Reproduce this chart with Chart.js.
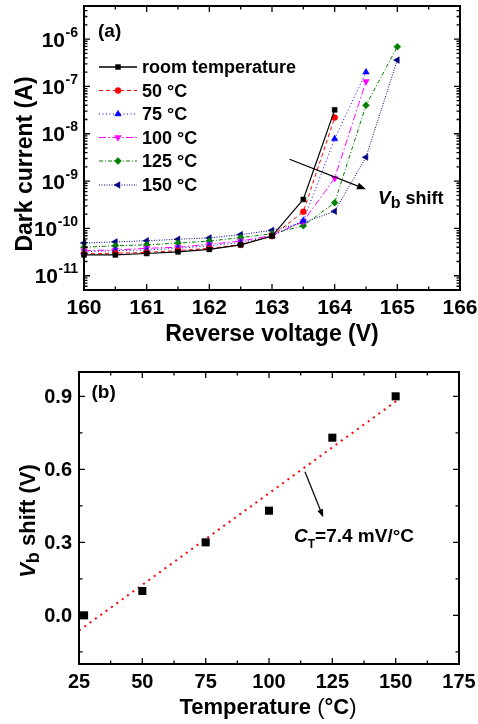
<!DOCTYPE html>
<html><head><meta charset="utf-8">
<script src="https://cdn.jsdelivr.net/npm/chart.js@4.4.1/dist/chart.umd.min.js"></script>
<style>
html,body{margin:0;padding:0;background:#fff;}
#wrap{position:relative;width:478px;height:724px;overflow:hidden;}
canvas{position:absolute;left:0;}
</style></head><body>
<div id="wrap">
<canvas id="ca" width="478" height="355" style="top:0px"></canvas>
<canvas id="cb" width="478" height="369" style="top:355px"></canvas>
</div>
<script>
// ---------- data (a) ----------
const voltage = [160, 160.5, 161, 161.5, 162, 162.5, 163, 163.5, 164, 164.5, 165];
const currentRoom = [2.75e-11, 2.75e-11, 2.95e-11, 3.2e-11, 3.6e-11, 4.5e-11, 6.9e-11, 4.1e-10, 3.2e-8];
const current50   = [2.9e-11, 3.0e-11, 3.1e-11, 3.4e-11, 3.8e-11, 4.5e-11, 6.9e-11, 2.25e-10, 2.2e-8];
const current75   = [3.2e-11, 3.4e-11, 3.5e-11, 3.8e-11, 4.3e-11, 5.0e-11, 6.9e-11, 1.46e-10, 7.8e-9, 2.0e-7];
const current100  = [3.4e-11, 3.5e-11, 3.8e-11, 4.0e-11, 4.6e-11, 5.4e-11, 7.1e-11, 1.4e-10, 1.15e-9, 1.27e-7];
const current125  = [4.0e-11, 4.3e-11, 4.5e-11, 4.9e-11, 5.4e-11, 6.4e-11, 7.7e-11, 1.14e-10, 3.5e-10, 4.0e-8, 6.9e-7];
const current150  = [4.9e-11, 5.2e-11, 5.5e-11, 5.9e-11, 6.3e-11, 7.4e-11, 9.1e-11, 1.32e-10, 2.3e-10, 3.2e-9, 3.6e-7];
const seriesNames = ['room temperature', '50 \u00B0C', '75 \u00B0C', '100 \u00B0C', '125 \u00B0C', '150 \u00B0C'];
const voltageTicks = [160, 161, 162, 163, 164, 165, 166];
const currentTickExponents = [-11, -10, -9, -8, -7, -6];

// ---------- data (b) ----------
const temperature = [27, 50, 75, 100, 125, 150];
const vbShift = [0.00, 0.10, 0.30, 0.43, 0.73, 0.90];
const fitTemperature = [25, 151];
const fitShift = [-0.063, 0.886];
const temperatureTicks = [25, 50, 75, 100, 125, 150, 175];
const shiftTicks = [0.0, 0.3, 0.6, 0.9];
const shiftTickLabels = ['0.0', '0.3', '0.6', '0.9'];

// ---------- styles ----------
const FAM = '"Liberation Sans", Arial, Helvetica, sans-serif';
const B = px => `bold ${px}px ${FAM}`;
const BI = px => `italic bold ${px}px ${FAM}`;
const currentSeries = [currentRoom, current50, current75, current100, current125, current150];
const seriesStyle = [
  {color:'#000000', dash:[],          point:'rect',     radius:3.5, rot:0},
  {color:'#FF0000', dash:[4,3],       point:'circle',   radius:3.0, rot:0},
  {color:'#0000FF', dash:[1,2.5],     point:'triangle', radius:3.8, rot:0},
  {color:'#FF00FF', dash:[7,2.5,1.5,2.5], point:'triangle', radius:3.8, rot:180},
  {color:'#008000', dash:[4,2,1,2],   point:'rectRot',  radius:3.5, rot:0},
  {color:'#000080', dash:[1,1.5],     point:'triangle', radius:3.8, rot:-90},
];

function drawRuns(ctx, runs, x, y, align){
  let w = 0;
  runs.forEach(r => { ctx.font = r.font; r.w = ctx.measureText(r.t).width; w += r.w; });
  let cx = align === 'center' ? x - w/2 : (align === 'right' ? x - w : x);
  ctx.textAlign = 'left'; ctx.textBaseline = 'alphabetic';
  runs.forEach(r => { ctx.font = r.font; ctx.fillText(r.t, cx, y + (r.dy || 0)); cx += r.w; });
}
function arrow(ctx, x1, y1, x2, y2, head, half){
  ctx.save();
  ctx.strokeStyle = '#000'; ctx.fillStyle = '#000'; ctx.lineWidth = 1.2; ctx.setLineDash([]);
  const a = Math.atan2(y2 - y1, x2 - x1);
  ctx.beginPath(); ctx.moveTo(x1, y1); ctx.lineTo(x2 - Math.cos(a)*head*0.8, y2 - Math.sin(a)*head*0.8); ctx.stroke();
  ctx.beginPath();
  ctx.moveTo(x2, y2);
  ctx.lineTo(x2 - Math.cos(a)*head + Math.sin(a)*half, y2 - Math.sin(a)*head - Math.cos(a)*half);
  ctx.lineTo(x2 - Math.cos(a)*head - Math.sin(a)*half, y2 - Math.sin(a)*head + Math.cos(a)*half);
  ctx.closePath(); ctx.fill();
  ctx.restore();
}
function marker(ctx, st, x, y){
  ctx.save();
  ctx.fillStyle = st.color; ctx.strokeStyle = st.color; ctx.lineWidth = 0.5; ctx.setLineDash([]);
  if (Chart.helpers && Chart.helpers.drawPoint) {
    Chart.helpers.drawPoint(ctx, {pointStyle: st.point, rotation: st.rot, radius: st.radius, borderWidth: 0.5}, x, y);
  } else {
    ctx.beginPath(); ctx.arc(x, y, st.radius, 0, Math.PI*2); ctx.fill();
  }
  ctx.restore();
}
function frameAndTicks(ctx, area, xs, ys){
  ctx.save();
  ctx.strokeStyle = '#000'; ctx.setLineDash([]);
  ctx.lineWidth = 1.3;
  ctx.beginPath();
  xs.forEach(t => {
    ctx.moveTo(t.p, area.bottom); ctx.lineTo(t.p, area.bottom - t.len);
    ctx.moveTo(t.p, area.top); ctx.lineTo(t.p, area.top + t.len);
  });
  ys.forEach(t => {
    ctx.moveTo(area.left, t.p); ctx.lineTo(area.left + t.len, t.p);
    ctx.moveTo(area.right, t.p); ctx.lineTo(area.right - t.len, t.p);
  });
  ctx.stroke();
  ctx.lineWidth = 2;
  ctx.strokeRect(area.left, area.top, area.right - area.left, area.bottom - area.top);
  ctx.restore();
}

// ---------- chart (a) ----------
const pluginA = {
  id: 'decorA',
  afterDraw(chart){
    const ctx = chart.ctx, area = chart.chartArea, sx = chart.scales.x, sy = chart.scales.y;
    const xs = [];
    voltageTicks.forEach((v, i) => {
      xs.push({p: sx.getPixelForValue(v), len: 6});
      if (i < voltageTicks.length - 1) xs.push({p: sx.getPixelForValue((v + voltageTicks[i+1]) / 2), len: 3.5});
    });
    const ys = [];
    const e0 = Math.floor(Math.log10(sy.min)), e1 = Math.ceil(Math.log10(sy.max));
    for (let e = e0; e <= e1; e++) {
      for (let m = 1; m <= 9; m++) {
        const v = m * Math.pow(10, e);
        if (v < sy.min * 0.999 || v > sy.max * 1.001) continue;
        ys.push({p: sy.getPixelForValue(v), len: m === 1 ? 6 : 3.5});
      }
    }
    frameAndTicks(ctx, area, xs, ys);

    ctx.save();
    ctx.fillStyle = '#000';
    // x tick labels
    ctx.font = B(21); ctx.textAlign = 'center'; ctx.textBaseline = 'alphabetic';
    voltageTicks.forEach(v => ctx.fillText(String(v), sx.getPixelForValue(v), 313.5));
    // y tick labels 10^e
    currentTickExponents.forEach(e => {
      const p = sy.getPixelForValue(Math.pow(10, e));
      ctx.font = B(14); const ex = String(e); const we = ctx.measureText(ex).width;
      ctx.textAlign = 'right'; ctx.fillText(ex, 78, p - 2.3);
      ctx.font = B(21); ctx.fillText('10', 78 - we - 0.5, p + 7.7);
    });
    // axis titles
    drawRuns(ctx, [{t:'Reverse voltage (V)', font:B(23)}], (area.left + area.right)/2, 341, 'center');
    ctx.save(); ctx.translate(32, 164); ctx.rotate(-Math.PI/2);
    drawRuns(ctx, [{t:'Dark current (A)', font:B(23)}], 0, 0, 'center');
    ctx.restore();
    // panel label
    drawRuns(ctx, [{t:'(a)', font:B(19)}], 98, 36.5, 'left');
    // legend
    const rows = [67, 90.5, 114, 137.5, 161, 185];
    chart.data.datasets.forEach((ds, i) => {
      const st = seriesStyle[i], y = rows[i];
      ctx.save();
      ctx.strokeStyle = st.color; ctx.lineWidth = i === 0 ? 1.5 : 1.2; ctx.setLineDash(st.dash);
      ctx.beginPath(); ctx.moveTo(99, y); ctx.lineTo(137, y); ctx.stroke();
      ctx.restore();
      marker(ctx, st, 118, y);
      ctx.fillStyle = '#000';
      drawRuns(ctx, [{t: ds.label, font: B(18)}], 142, y + 6, 'left');
    });
    // V_b shift annotation
    arrow(ctx, sx.getPixelForValue(163.28), sy.getPixelForValue(2.9e-9),
               sx.getPixelForValue(164.5), sy.getPixelForValue(6.7e-10), 9, 3.5);
    ctx.fillStyle = '#000';
    drawRuns(ctx, [{t:'V', font:BI(19)}, {t:'b', font:B(16), dy:4}, {t:' shift', font:B(18)}], 378, 204, 'left');
    ctx.restore();
  }
};

new Chart(document.getElementById('ca'), {
  type: 'scatter',
  data: {
    datasets: currentSeries.map((arr, i) => ({
      label: seriesNames[i],
      data: arr.map((c, j) => ({x: voltage[j], y: c})),
      showLine: true,
      borderColor: seriesStyle[i].color,
      backgroundColor: seriesStyle[i].color,
      borderWidth: i === 0 ? 1.2 : 1,
      borderDash: seriesStyle[i].dash,
      pointStyle: seriesStyle[i].point,
      pointRotation: seriesStyle[i].rot,
      pointRadius: seriesStyle[i].radius,
      pointBorderWidth: 0.5,
      pointBorderColor: seriesStyle[i].color,
      pointBackgroundColor: seriesStyle[i].color,
      tension: 0,
      clip: 4
    }))
  },
  options: {
    responsive: false, animation: false, events: [],
    layout: {padding: {top: 6, right: 18, left: 0, bottom: 0}},
    plugins: {legend: {display: false}, tooltip: {enabled: false}},
    scales: {
      x: {type: 'linear', min: 160, max: 166,
          ticks: {display: false}, grid: {display: false}, border: {display: false},
          afterFit: s => { s.height = 65; }},
      y: {type: 'logarithmic', min: 5e-12, max: 5e-6,
          ticks: {display: false}, grid: {display: false}, border: {display: false},
          afterFit: s => { s.width = 84; }}
    }
  },
  plugins: [pluginA]
});

// ---------- chart (b) ----------
const pluginB = {
  id: 'decorB',
  afterDraw(chart){
    const ctx = chart.ctx, area = chart.chartArea, sx = chart.scales.x, sy = chart.scales.y;
    const xs = [];
    temperatureTicks.forEach((v, i) => {
      xs.push({p: sx.getPixelForValue(v), len: 6});
      if (i < temperatureTicks.length - 1) xs.push({p: sx.getPixelForValue((v + temperatureTicks[i+1]) / 2), len: 3.5});
    });
    const ys = [];
    const step = shiftTicks[1] - shiftTicks[0];
    shiftTicks.forEach(v => ys.push({p: sy.getPixelForValue(v), len: 6}));
    const minors = [shiftTicks[0] - step/2];
    shiftTicks.forEach(v => minors.push(v + step/2));
    minors.forEach(v => { if (v > sy.min && v < sy.max) ys.push({p: sy.getPixelForValue(v), len: 3.5}); });
    frameAndTicks(ctx, area, xs, ys);

    ctx.save();
    ctx.fillStyle = '#000';
    ctx.font = B(20); ctx.textAlign = 'center'; ctx.textBaseline = 'alphabetic';
    temperatureTicks.forEach(v => ctx.fillText(String(v), sx.getPixelForValue(v), 333.3));
    ctx.textAlign = 'right';
    shiftTicks.forEach((v, i) => ctx.fillText(shiftTickLabels[i], 72, sy.getPixelForValue(v) + 7));
    // x title
    drawRuns(ctx, [{t:'Temperature ', font:B(22)}, {t:'(', font:`${22}px ${FAM}`}, {t:'\u00B0C', font:B(22)}, {t:')', font:`${22}px ${FAM}`}],
             268, 359, 'center');
    // y title
    ctx.save(); ctx.translate(35, 166); ctx.rotate(-Math.PI/2);
    drawRuns(ctx, [{t:'V', font:BI(22)}, {t:'b', font:B(18), dy:4}, {t:' shift (V)', font:B(22)}], 0, 0, 'center');
    ctx.restore();
    // panel label
    drawRuns(ctx, [{t:'(b)', font:B(19)}], 91.5, 43, 'left');
    // C_T annotation
    arrow(ctx, sx.getPixelForValue(114.2), sy.getPixelForValue(0.59),
               sx.getPixelForValue(121.4), sy.getPixelForValue(0.403), 8, 3);
    ctx.fillStyle = '#000';
    drawRuns(ctx, [{t:'C', font:BI(19)}, {t:'T', font:B(12), dy:6}, {t:'=7.4 mV/\u00B0C', font:B(19)}], 294, 186.5, 'left');
    ctx.restore();
  }
};

new Chart(document.getElementById('cb'), {
  type: 'scatter',
  data: {
    datasets: [
      {label: 'Vb shift', data: temperature.map((t, i) => ({x: t, y: vbShift[i]})),
       showLine: false, pointStyle: 'rect', pointRadius: 5.7, pointBorderWidth: 0,
       pointBackgroundColor: '#000', backgroundColor: '#000', borderColor: '#000', clip: 8},
      {label: 'fit', data: fitTemperature.map((t, i) => ({x: t, y: fitShift[i]})),
       showLine: true, borderColor: '#FF0000', borderWidth: 2, borderDash: [2, 4.6],
       pointRadius: 0, tension: 0}
    ]
  },
  options: {
    responsive: false, animation: false, events: [],
    layout: {padding: {top: 17, right: 19, left: 0, bottom: 0}},
    plugins: {legend: {display: false}, tooltip: {enabled: false}},
    scales: {
      x: {type: 'linear', min: 25, max: 175,
          ticks: {display: false}, grid: {display: false}, border: {display: false},
          afterFit: s => { s.height = 60; }},
      y: {type: 'linear', min: -0.2, max: 1.0,
          ticks: {display: false}, grid: {display: false}, border: {display: false},
          afterFit: s => { s.width = 79; }}
    }
  },
  plugins: [pluginB]
});
</script>
</body></html>
